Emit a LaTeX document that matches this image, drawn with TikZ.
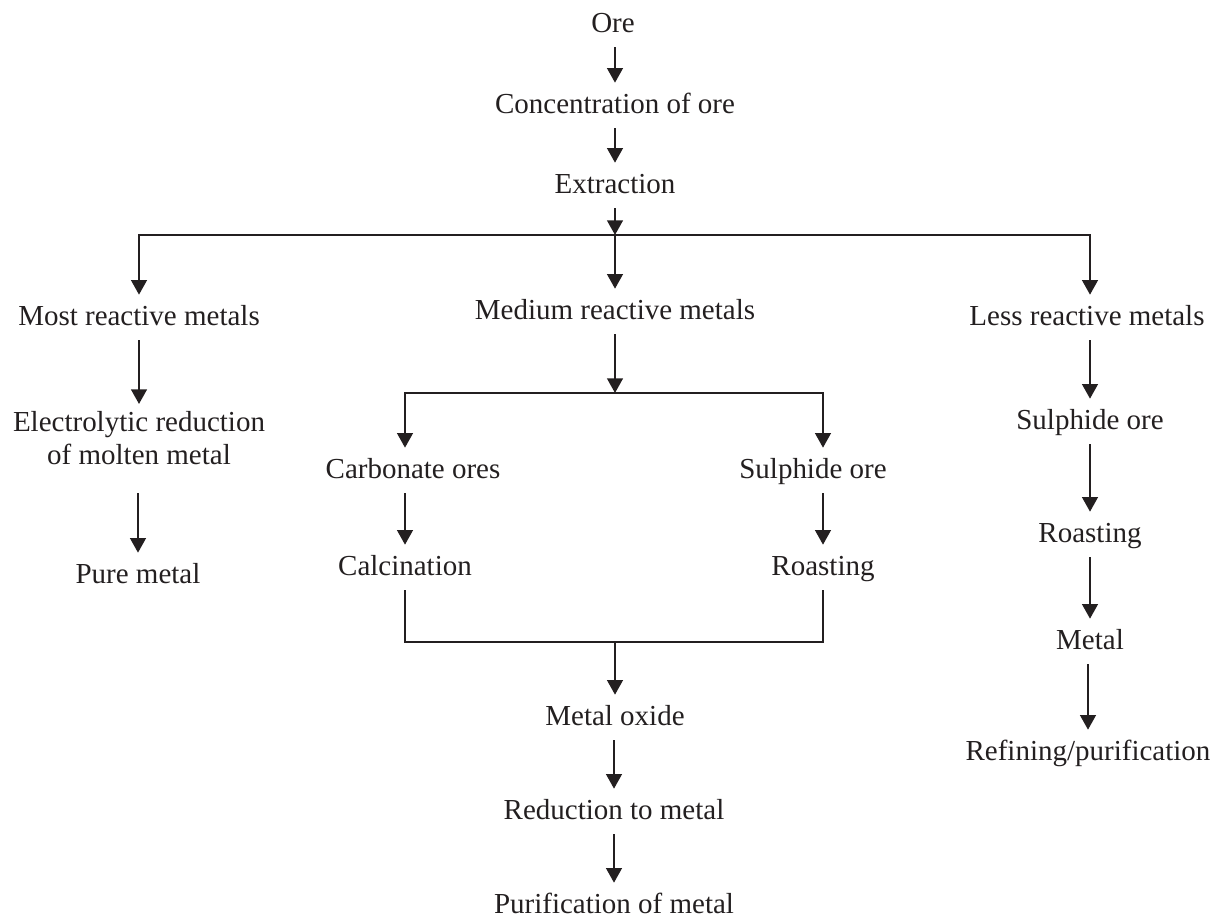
\documentclass[tikz,border=0pt]{standalone}
\usepackage{fontspec}
\setmainfont{Liberation Serif}
\usetikzlibrary{arrows.meta}
\definecolor{ink}{HTML}{231F20}

\begin{document}
\begin{tikzpicture}[x=0.02cm, y=-0.02cm,
    lbl/.style={font=\fontsize{16.5pt}{18.7pt}\selectfont, text=ink,
                inner xsep=0pt, inner ysep=4pt,
                text height=13.6pt, text depth=3.9pt, anchor=base},
    arr/.style={-{Triangle[length=2.9mm, width=3.1mm]}, line width=1.3pt, draw=ink},
    bus/.style={line width=1.3pt, draw=ink}]
  \useasboundingbox (0,0) rectangle (1215,918);

  % main line
  \node[lbl] (ore)   at (613,33)  {Ore};
  \node[lbl] (conc)  at (615,114) {Concentration of ore};
  \node[lbl] (extr)  at (615,194) {Extraction};

  % three groups
  \node[lbl] (most)  at (139,326)  {Most reactive metals};
  \node[lbl] (med)   at (615,320)  {Medium reactive metals};
  \node[lbl] (less)  at (1087,326) {Less reactive metals};

  % most reactive
  \node[lbl, align=center, text height=, text depth=, anchor=north] (elec) at (139,404)
       {Electrolytic reduction\\of molten metal};
  \node[lbl] (pure)  at (138,584) {Pure metal};

  % medium reactive
  \node[lbl] (carb)   at (413,479) {Carbonate ores};
  \node[lbl] (sulA)   at (813,479) {Sulphide ore};
  \node[lbl] (calc)   at (405,576) {Calcination};
  \node[lbl] (roastA) at (823,576) {Roasting};
  \node[lbl] (oxide)  at (615,726) {Metal oxide};
  \node[lbl] (reduc)  at (614,820) {Reduction to metal};
  \node[lbl] (purif)  at (614,914) {Purification of metal};

  % less reactive
  \node[lbl] (sulB)   at (1090,430) {Sulphide ore};
  \node[lbl] (roastB) at (1090,543) {Roasting};
  \node[lbl] (metal)  at (1090,650) {Metal};
  \node[lbl] (refin)  at (1088,761) {Refining/purification};

  % straight arrows
  \foreach \a/\b in {ore/conc, conc/extr, most/elec, carb/calc,
                     sulA/roastA, oxide/reduc, reduc/purif, less/sulB,
                     sulB/roastB, roastB/metal, metal/refin}
    \draw[arr] (\b |- \a.south) -- (\b.north);
  \draw[arr, shorten <=0.42cm] (pure |- elec.south) -- (pure.north);

  % first split
  \coordinate (split) at (615,235);
  \draw[arr] (extr.south) -- (split);
  \draw[arr] (split) -| (most.north);
  \draw[arr] (split) -- (med.north);
  \draw[arr] (split) -| (sulB |- less.north);

  % second split and join
  \coordinate (split2) at (615,393);
  \coordinate (join) at (615,642);
  \draw[arr] (med.south) -- (split2);
  \draw[arr] (split2) -| (calc |- carb.north);
  \draw[arr] (split2) -| (roastA |- sulA.north);
  \draw[bus] (calc.south) |- (join) -| (roastA.south);
  \draw[arr] (join) -- (oxide.north);
\end{tikzpicture}
\end{document}
